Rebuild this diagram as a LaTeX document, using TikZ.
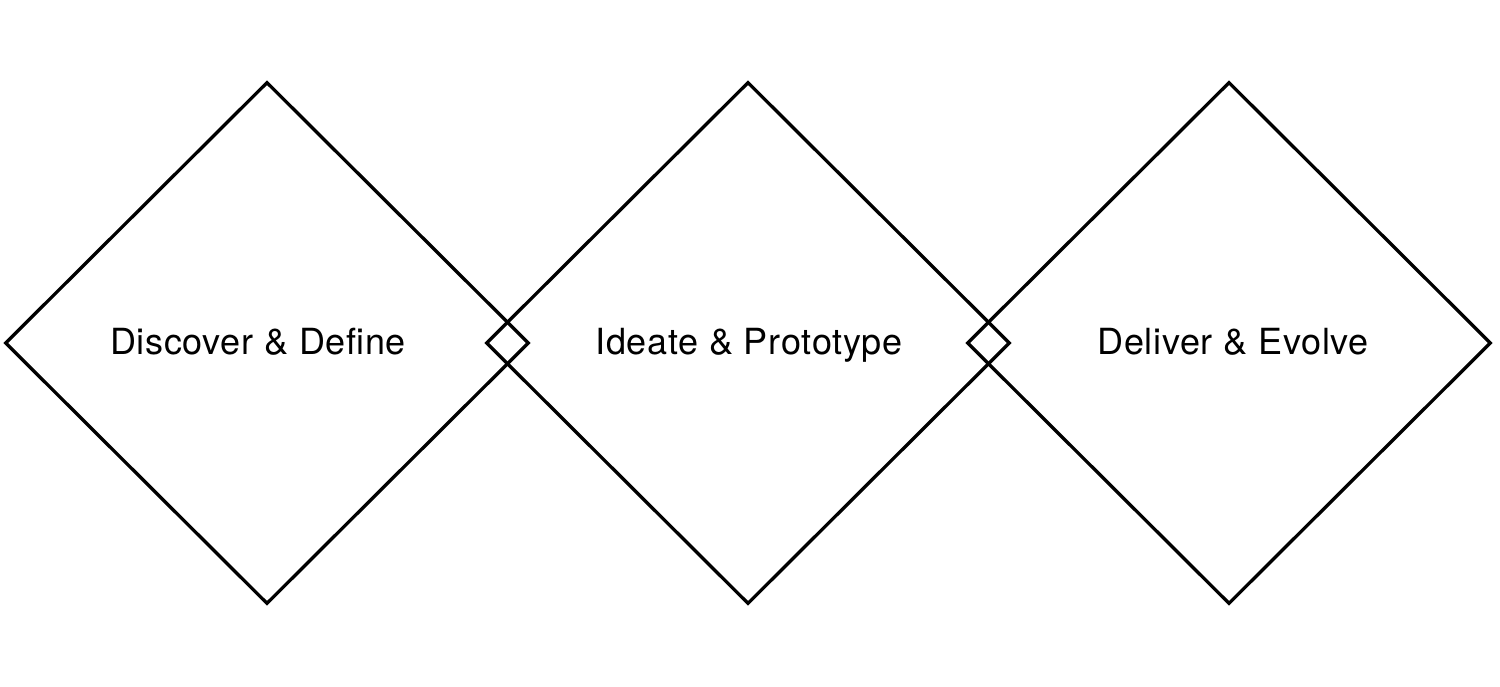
\documentclass[tikz,border=0pt]{standalone}
\usepackage{fontspec}
\setmainfont{TeX Gyre Heros}[LetterSpace=2.0]
\usetikzlibrary{shapes.geometric}
\tikzset{
	phase/.style={draw=black, line width=3.3pt, shape=diamond, shape aspect=1,
		minimum width=524pt, minimum height=522pt, inner sep=0pt},
	phasetext/.style={inner sep=0pt, text height=26pt, text depth=4pt,
		font=\fontsize{36}{40}\selectfont}
}

\begin{document}
\begin{tikzpicture}[x=1pt, y=-1pt]
			%%%%% START %%%%%
			
			\useasboundingbox (0, 0) rectangle (1500, 687);
			
			\node[phase] (discover) at (267, 343) {};
			\node[phase] (ideate) at (748, 343) {};
			\node[phase] (deliver) at (1229, 343) {};
			
			\node[phasetext] (discovertext) at ([xshift=-9pt]discover.center) {Discover \& Define};
			\node[phasetext] (ideatetext) at ([xshift=1pt]ideate.center) {Ideate \& Prototype};
			\node[phasetext] (delivertext) at ([xshift=4pt]deliver.center) {Deliver \& Evolve};
			
			%%%%% END %%%%%
		\end{tikzpicture}
\end{document}
